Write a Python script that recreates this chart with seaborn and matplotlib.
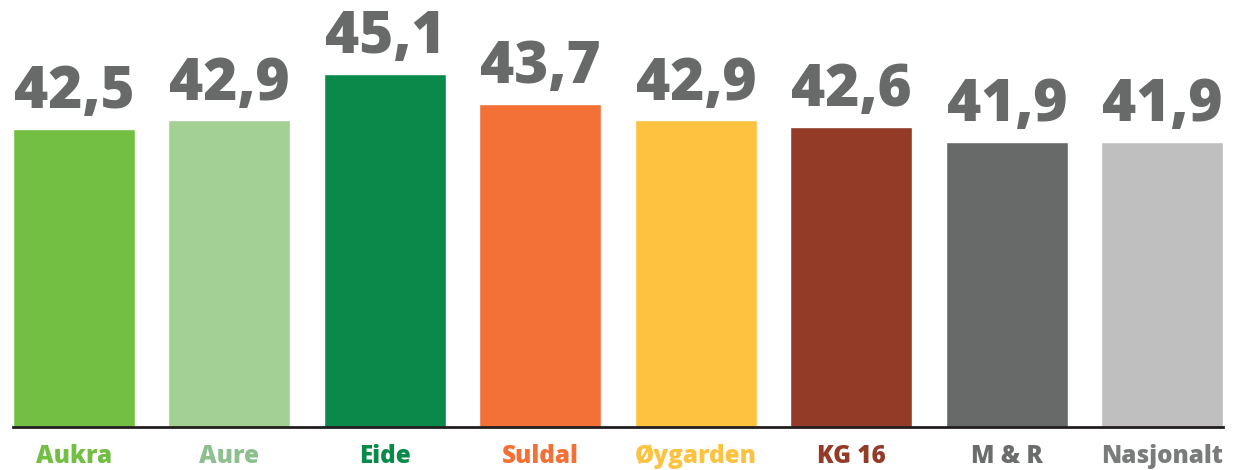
import pandas as pd
import seaborn as sns
import matplotlib.pyplot as plt

# data
kommuner = ['Aukra', 'Aure', 'Eide', 'Suldal', 'Øygarden', 'KG 16', 'M & R', 'Nasjonalt']
verdier = [42.5, 42.9, 45.1, 43.7, 42.9, 42.6, 41.9, 41.9]
bar_farger = ['#72BF44', '#A3D194', '#0A8A4A', '#F37036', '#FDC340', '#943B28', '#676A69', '#BEBFBE']
tekst_farger = ['#72BF44', '#8DBF8F', '#0A8A4A', '#F37036', '#FDC340', '#943B28', '#6B6D6C', '#7A7C7B']

df = pd.DataFrame({'kommune': kommuner, 'verdi': verdier})

sns.set_style('white')
plt.rcParams['font.family'] = ['Open Sans', 'DejaVu Sans']

fig = plt.figure(figsize=(12.4, 4.7), dpi=100)
ax = fig.add_axes([-0.003, 43 / 470, 1.003, 427 / 470])

bredde = 0.785
sns.barplot(data=df, x='kommune', y='verdi', hue='kommune', palette=bar_farger,
            width=bredde, legend=False, ax=ax, saturation=1)

ax.set_ylim(28.4, 48.6)
ax.set_xlim(-0.5, 7.5)

# value labels above bars
for i, v in enumerate(verdier):
    ax.annotate(f'{v:.1f}'.replace('.', ','), (i, v), xytext=(0, 15), textcoords='offset points',
                ha='center', va='baseline', fontsize=42, fontweight='heavy', color='#676A69')

for s in ['top', 'right', 'left']:
    ax.spines[s].set_visible(False)
ax.spines['bottom'].set_color('#231F20')
ax.spines['bottom'].set_linewidth(2)
ax.spines['bottom'].set_bounds(-bredde / 2, 7 + bredde / 2)

ax.set_yticks([])
ax.set_xlabel('')
ax.set_ylabel('')
ax.tick_params(axis='x', length=0, pad=12)
for lbl, c in zip(ax.get_xticklabels(), tekst_farger):
    lbl.set_color(c)
    lbl.set_fontsize(17.5)
    lbl.set_fontweight('heavy')

fig.savefig('out.png', dpi=100)
